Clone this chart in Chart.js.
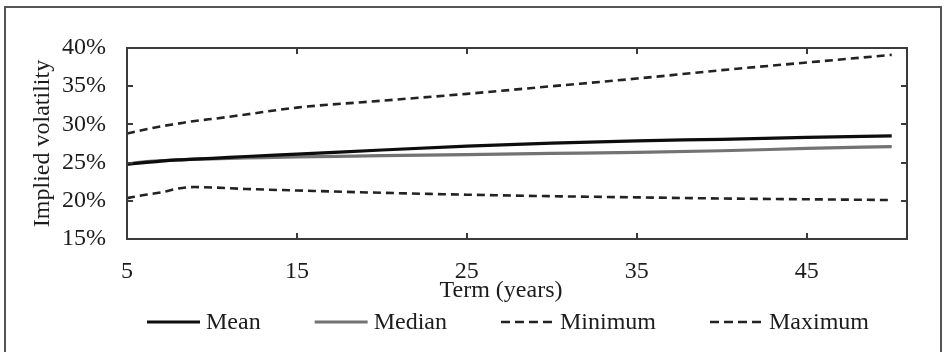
<!DOCTYPE html>
<html>
<head>
<meta charset="utf-8">
<script src="https://cdn.jsdelivr.net/npm/chart.js@4.4.1/dist/chart.umd.min.js"></script>
<style>
  html, body { margin: 0; padding: 0; background: #fff; }
  #wrap { position: relative; width: 944px; height: 352px; overflow: hidden; }
  #frame { position: absolute; left: 4px; top: 6px; width: 938px; height: 360px;
           border: 2px solid #555; box-sizing: border-box; pointer-events: none; }
  canvas { position: absolute; left: 0; top: 0; }
</style>
</head>
<body>
<div id="wrap">
  <canvas id="c" width="944" height="352"></canvas>
  <div id="frame"></div>
</div>
<script>
// Implied volatility term structure (percent) by term in years
const terms   = [5, 6, 7, 8, 9, 10, 12, 15, 20, 25, 30, 35, 40, 45, 50];
const meanVol   = [24.8, 25.0, 25.2, 25.35, 25.45, 25.55, 25.8, 26.1, 26.65, 27.15, 27.55, 27.85, 28.05, 28.3, 28.5];
const medianVol = [24.8, 25.1, 25.25, 25.35, 25.45, 25.5, 25.6, 25.75, 25.9, 26.05, 26.2, 26.35, 26.55, 26.85, 27.1];
const minVol    = [20.35, 20.75, 21.1, 21.6, 21.8, 21.75, 21.55, 21.35, 21.05, 20.8, 20.6, 20.45, 20.3, 20.2, 20.1];
const maxVol    = [28.8, 29.3, 29.75, 30.1, 30.45, 30.7, 31.3, 32.2, 33.1, 34.0, 35.0, 36.0, 37.1, 38.1, 39.1];

const xTicks = [5, 15, 25, 35, 45];
const yTicks = [15, 20, 25, 30, 35, 40];

const FONT = '"Liberation Serif", "Times New Roman", serif';
const TEXT = '#1c1c1c';
const AXIS = '#3a3a3a';

const pts = vals => terms.map((t, i) => ({ x: t, y: vals[i] }));

// Boxed plot area with inward tick marks on all four sides, plus axis titles and legend
const framePlugin = {
  id: 'frame',
  afterDatasetsDraw(chart) {
    const { ctx, chartArea: a, scales: { x, y } } = chart;
    ctx.save();
    ctx.strokeStyle = AXIS;
    ctx.lineWidth = 2;
    ctx.strokeRect(a.left, a.top, a.right - a.left, a.bottom - a.top);
    const len = 6;
    ctx.beginPath();
    xTicks.forEach(v => {
      const px = Math.round(x.getPixelForValue(v));
      ctx.moveTo(px, a.bottom); ctx.lineTo(px, a.bottom - len);
      ctx.moveTo(px, a.top);    ctx.lineTo(px, a.top + len);
    });
    yTicks.forEach(v => {
      const py = Math.round(y.getPixelForValue(v));
      ctx.moveTo(a.left, py);  ctx.lineTo(a.left + len, py);
      ctx.moveTo(a.right, py); ctx.lineTo(a.right - len, py);
    });
    ctx.stroke();
    ctx.restore();
  },
  afterDraw(chart) {
    const { ctx, chartArea: a } = chart;
    ctx.save();
    ctx.fillStyle = TEXT;
    ctx.font = '24px ' + FONT;
    ctx.textBaseline = 'middle';

    // axis titles
    ctx.textAlign = 'center';
    ctx.fillText('Term (years)', 501, 291);
    ctx.save();
    ctx.translate(43, (a.top + a.bottom) / 2);
    ctx.rotate(-Math.PI / 2);
    ctx.fillText('Implied volatility', 0, 0);
    ctx.restore();

    // legend built from the datasets' own styles
    const sets = chart.data.datasets;
    const lineLen = 53, textGap = 6, itemGap = 54, ly = 322;
    const widths = sets.map(d => ctx.measureText(d.label).width);
    const total = sets.length * (lineLen + textGap) + widths.reduce((s, w) => s + w, 0) + (sets.length - 1) * itemGap;
    let cx = 508 - total / 2;
    ctx.textAlign = 'left';
    sets.forEach((d, i) => {
      ctx.save();
      ctx.strokeStyle = d.borderColor;
      ctx.lineWidth = d.borderWidth;
      ctx.setLineDash(d.borderDash && d.borderDash.length ? [9, 5] : []);
      ctx.beginPath();
      ctx.moveTo(cx, ly); ctx.lineTo(cx + lineLen, ly);
      ctx.stroke();
      ctx.restore();
      ctx.fillText(d.label, cx + lineLen + textGap, ly + 1);
      cx += lineLen + textGap + widths[i] + itemGap;
    });
    ctx.restore();
  }
};

new Chart(document.getElementById('c'), {
  type: 'line',
  data: {
    datasets: [
      { label: 'Mean',    data: pts(meanVol),   borderColor: '#0d0d0d', borderWidth: 3.2 },
      { label: 'Median',  data: pts(medianVol), borderColor: '#737373', borderWidth: 3.2 },
      { label: 'Minimum', data: pts(minVol),    borderColor: '#222222', borderWidth: 2.6, borderDash: [8, 5] },
      { label: 'Maximum', data: pts(maxVol),    borderColor: '#222222', borderWidth: 2.6, borderDash: [8, 5] }
    ]
  },
  options: {
    responsive: false,
    animation: false,
    devicePixelRatio: 1,
    layout: { padding: { top: 48, right: 37, left: 0, bottom: 0 } },
    elements: {
      point: { radius: 0 },
      line: { tension: 0.4, cubicInterpolationMode: 'monotone', fill: false, borderCapStyle: 'butt' }
    },
    plugins: { legend: { display: false }, tooltip: { enabled: false } },
    scales: {
      x: {
        type: 'linear', min: 5, max: 50.9,
        afterBuildTicks: s => { s.ticks = xTicks.map(v => ({ value: v })); },
        afterFit: s => { s.height = 113; },
        grid: { display: false },
        border: { display: false },
        ticks: { color: TEXT, font: { family: FONT, size: 24 }, padding: 10, maxRotation: 0, autoSkip: false }
      },
      y: {
        min: 15, max: 40,
        afterBuildTicks: s => { s.ticks = yTicks.map(v => ({ value: v })); },
        afterFit: s => { s.width = 127; },
        grid: { display: false },
        border: { display: false },
        ticks: { color: TEXT, font: { family: FONT, size: 24 }, padding: 13, callback: v => v + '%' }
      }
    }
  },
  plugins: [framePlugin]
});
</script>
</body>
</html>
